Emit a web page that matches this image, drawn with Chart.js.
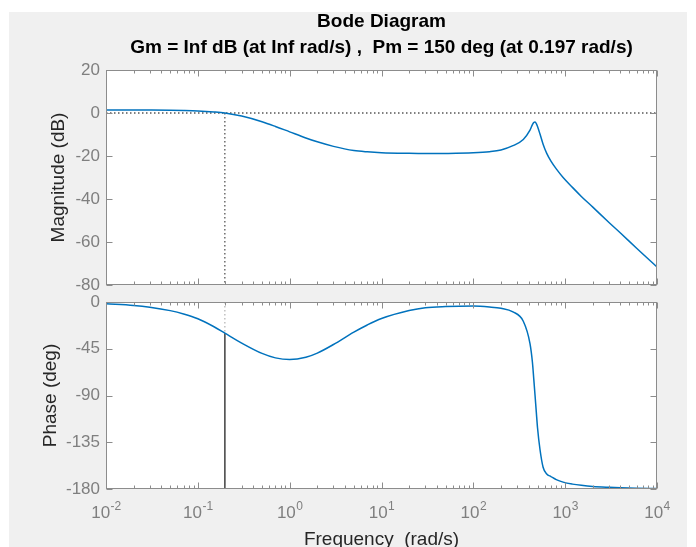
<!DOCTYPE html>
<html>
<head>
<meta charset="utf-8">
<script src="https://cdn.jsdelivr.net/npm/chart.js@4/dist/chart.umd.min.js"></script>
<style>
  html, body { margin:0; padding:0; background:#ffffff; overflow:hidden; }
  #bg { position:absolute; left:9px; top:12px; width:678px; height:535px; background:#f0f0f0; }
  #w1 { position:absolute; left:0; top:0; width:696px; height:292px; }
  #w2 { position:absolute; left:0; top:292px; width:696px; height:255px; }
</style>
</head>
<body>
<div id="bg"></div>
<div id="w1"><canvas id="c1" width="696" height="292"></canvas></div>
<div id="w2"><canvas id="c2" width="696" height="255"></canvas></div>
<script>
// ---- data ----
const freq = [0.01,0.02,0.03,0.05,0.07,0.1,0.15,0.197,0.3,0.5,0.7,1,1.5,2,3,5,7,10,20,30,50,100,150,200,270,350,414,440,455,470,485,500,532,575,630,700,800,950,1200,1500,2000,3000,4000,6000,10000];
const magDb = [1.4,1.38,1.36,1.29,1.18,0.97,0.49,0.0,-1.43,-4.06,-6.25,-8.76,-11.6,-13.41,-15.52,-17.45,-18.06,-18.46,-18.77,-18.85,-18.8,-18.5,-18.0,-17.2,-15.2,-12.3,-8.0,-5.4,-4.4,-4.2,-4.9,-6.3,-9.8,-14.5,-18.8,-22.4,-26.0,-30.0,-34.6,-38.8,-43.8,-50.9,-55.8,-62.9,-71.6];
const phaseDeg = [-1.7,-3.3,-5.0,-8.3,-11.5,-16.1,-23.8,-30,-39.5,-49.5,-53.8,-55.4,-53.2,-49.2,-40.9,-29,-22.1,-15.9,-8.2,-5.5,-4.4,-3.9,-4.8,-6.1,-9.5,-18.5,-40,-58,-74,-90,-106,-121,-142,-159,-165.5,-168,-171,-173.4,-175.3,-176.5,-177.6,-178.4,-178.8,-179.2,-179.5];
const xTickValues = [0.01,0.1,1,10,100,1000,10000];
const xTickBase = '10';
const xTickExponents = ['-2','-1','0','1','2','3','4'];
const magTicks = [20,0,-20,-40,-60,-80];
const phaseTicks = [0,-45,-90,-135,-180];
const crossoverFreq = 0.197;
const crossoverPhase = -30;
const titleLines = ['Bode Diagram','Gm = Inf dB (at Inf rad/s) ,  Pm = 150 deg (at 0.197 rad/s)'];
const xTitle = 'Frequency  (rad/s)';
const magTitle = 'Magnitude (dB)';
const phaseTitle = 'Phase (deg)';

// ---- styles ----
const FONT = "'Liberation Sans', Arial, Helvetica, sans-serif";
const BLUE = '#0072BD';
const AXIS = '#8c8c8c';
const TICKTXT = '#7f7f7f';
const LABEL = '#262626';

const xRange = [xTickValues[0], xTickValues[xTickValues.length-1]];

const boxTicks = {
  id: 'boxTicks',
  beforeDatasetsDraw(chart) {
    const {ctx, chartArea:a} = chart;
    ctx.save();
    ctx.fillStyle = '#ffffff';
    ctx.fillRect(a.left, a.top, a.right - a.left, a.bottom - a.top);
    ctx.restore();
  },
  afterDatasetsDraw(chart) {
    const {ctx, chartArea:a, scales:{x, y}} = chart;
    ctx.save();
    ctx.strokeStyle = AXIS;
    ctx.lineWidth = 1;
    ctx.beginPath();
    const L = Math.round(a.left) + 0.5, R = Math.round(a.right) - 0.5;
    const T = Math.round(a.top) + 0.5, B = Math.round(a.bottom) - 0.5;
    for (let d = xRange[0]; d < xRange[1]; d *= 10) {
      for (let k = 2; k <= 9; k++) {
        const px = Math.round(x.getPixelForValue(d * k)) + 0.5;
        ctx.moveTo(px, T); ctx.lineTo(px, T + 3);
        ctx.moveTo(px, B); ctx.lineTo(px, B - 3);
      }
    }
    for (const v of xTickValues) {
      const px = Math.round(x.getPixelForValue(v)) + 0.5;
      ctx.moveTo(px, T); ctx.lineTo(px, T + 6);
      ctx.moveTo(px, B); ctx.lineTo(px, B - 6);
    }
    for (const t of y.ticks) {
      const py = Math.round(y.getPixelForValue(t.value)) + 0.5;
      ctx.moveTo(L, py); ctx.lineTo(L + 6, py);
      ctx.moveTo(R, py); ctx.lineTo(R - 6, py);
    }
    ctx.stroke();
    ctx.strokeRect(L, T, R - L, B - T);
    ctx.restore();
  }
};

// power-of-ten tick labels with raised exponents, placed by the x scale
const powerLabels = {
  id: 'powerLabels',
  afterDraw(chart) {
    const {ctx, chartArea:a, scales:{x}} = chart;
    ctx.save();
    ctx.fillStyle = TICKTXT;
    ctx.textBaseline = 'alphabetic';
    ctx.textAlign = 'left';
    const baseY = a.bottom + 29;
    xTickValues.forEach((v, i) => {
      const px = x.getPixelForValue(v);
      ctx.font = `17px ${FONT}`;
      const w1 = ctx.measureText(xTickBase).width;
      ctx.font = `12px ${FONT}`;
      const w2 = ctx.measureText(xTickExponents[i]).width;
      const x0 = px - (w1 + w2) / 2;
      ctx.font = `17px ${FONT}`;
      ctx.fillText(xTickBase, x0, baseY);
      ctx.font = `12px ${FONT}`;
      ctx.fillText(xTickExponents[i], x0 + w1 + 0.5, baseY - 8);
    });
    ctx.restore();
  }
};

function xyPairs(xs, ys) { return xs.map((v, i) => ({x: v, y: ys[i]})); }

function baseX(h) {
  return {
    type: 'logarithmic',
    min: xRange[0], max: xRange[1],
    grid: { display: false, drawTicks: false }, border: { display: false },
    afterBuildTicks: s => { s.ticks = xTickValues.map(v => ({value: v, major: true})); },
    afterFit: s => { s.height = h; s.paddingLeft = 0; s.paddingRight = 0; },
    ticks: { display: false, autoSkip: false, maxRotation: 0 }
  };
}

function baseY(min, max, ticks, title, labelOffset) {
  return {
    type: 'linear', min, max,
    grid: { display: false, drawTicks: false }, border: { display: false },
    afterBuildTicks: s => { s.ticks = ticks.map(v => ({value: v})); },
    afterFit: s => { s.width = 106; s.paddingTop = 0; s.paddingBottom = 0; },
    ticks: { color: TICKTXT, padding: 6, font: { family: FONT, size: 17 } },
    title: { display: true, text: title, color: LABEL, font: { family: FONT, size: 19, lineHeight: 1.2 }, padding: { top: labelOffset, bottom: 0 } }
  };
}

const commonPlugins = { legend: { display: false }, tooltip: { enabled: false } };

// ---- magnitude chart ----
new Chart(document.getElementById('c1'), {
  type: 'line',
  data: {
    datasets: [
      { data: xyPairs(freq, magDb), borderColor: BLUE, borderWidth: 1.5, pointRadius: 0, cubicInterpolationMode: 'monotone', fill: false },
      { data: [{x: xRange[0], y: 0}, {x: xRange[1], y: 0}], borderColor: '#000000', borderWidth: 1, borderDash: [1.5, 2.5], pointRadius: 0 },
      { data: [{x: crossoverFreq, y: 0}, {x: crossoverFreq, y: magTicks[magTicks.length-1]}], borderColor: '#222222', borderWidth: 1, borderDash: [1.5, 2.5], pointRadius: 0 }
    ]
  },
  options: {
    responsive: false, animation: false, devicePixelRatio: 1,
    layout: { padding: { top: 0, left: 0, right: 39, bottom: 0 } },
    plugins: {
      ...commonPlugins,
      title: { display: true, fullSize: false, text: titleLines, color: '#000000',
        font: { family: FONT, size: 19, weight: 'bold', lineHeight: '26px' }, padding: { top: 9, bottom: 9 } }
    },
    scales: { x: baseX(7), y: baseY(-80, 20, magTicks, magTitle, 47) }
  },
  plugins: [boxTicks]
});

// ---- phase chart ----
const x2 = baseX(58);
x2.title = { display: true, text: xTitle, color: LABEL, font: { family: FONT, size: 19, lineHeight: '14px' }, padding: { top: 0, bottom: 0 } };
new Chart(document.getElementById('c2'), {
  type: 'line',
  data: {
    datasets: [
      { data: xyPairs(freq, phaseDeg), borderColor: BLUE, borderWidth: 1.5, pointRadius: 0, cubicInterpolationMode: 'monotone', fill: false },
      { data: [{x: xRange[0], y: -180}, {x: xRange[1], y: -180}], borderColor: '#000000', borderWidth: 1, borderDash: [1.5, 2.5], pointRadius: 0 },
      { data: [{x: crossoverFreq, y: 0}, {x: crossoverFreq, y: crossoverPhase}], borderColor: '#a0a0a0', borderWidth: 1, borderDash: [1.5, 2.5], pointRadius: 0 },
      { data: [{x: crossoverFreq, y: crossoverPhase}, {x: crossoverFreq, y: -180}], borderColor: '#404040', borderWidth: 1.5, pointRadius: 0 }
    ]
  },
  options: {
    responsive: false, animation: false, devicePixelRatio: 1,
    layout: { padding: { top: 10, left: 0, right: 39, bottom: 0 } },
    plugins: commonPlugins,
    scales: { x: x2, y: baseY(-180, 0, phaseTicks, phaseTitle, 39) }
  },
  plugins: [boxTicks, powerLabels]
});
</script>
</body>
</html>
